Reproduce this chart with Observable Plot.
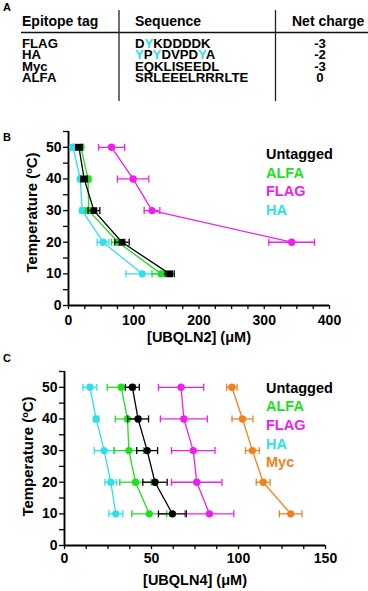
<!DOCTYPE html>
<html><head><meta charset="utf-8">
<script src="https://cdn.jsdelivr.net/npm/d3@7"></script>
<script src="https://cdn.jsdelivr.net/npm/@observablehq/plot@0.6"></script>
<style>
body{margin:0;background:#fff;}
#root{position:relative;width:368px;height:591px;overflow:hidden;background:#fff;font-family:"Liberation Sans",Arial,sans-serif;}
#root > svg{position:absolute;left:0;}
</style></head><body><div id="root"></div>
<script>
// ---- Panel A table ----
const headers = ["Epitope tag", "Sequence", "Net charge"];
const tags = ["FLAG", "HA", "Myc", "ALFA"];
const sequences = ["DYKDDDDK", "YPYDVPDYA", "EQKLISEEDL", "SRLEEELRRRLTE"];
const highlightedPositions = [[1], [0, 2, 7], [], []];
const netCharges = ["-3", "-2", "-3", "0"];

// ---- Panels B and C data ----
const temperatures = [10, 20, 30, 40, 50];
const xTicksB = [0, 100, 200, 300, 400];
const xTicksC = [0, 50, 100, 150];
const yTicks = [0, 10, 20, 30, 40, 50];

// UBQLN2 (µM) by temperature 10..50
const b_Untagged = [155, 82, 39, 24, 16];
const b_Untagged_err = [7, 11, 9, 5, 5];
const b_ALFA = [142, 76, 31, 30, 19];
const b_ALFA_err = [14, 10, 5, 4, 4];
const b_FLAG = [null, 342, 128, 99, 66];
const b_FLAG_err = [null, 35, 12, 24, 20];
const b_HA = [113, 53, 21, 18, 7];
const b_HA_err = [25, 9, 3, 3, 4];

// UBQLN4 (µM) by temperature 10..50
const c_Untagged = [62, 52, 47.5, 42.3, 39];
const c_Untagged_err = [8, 7, 6, 6, 4];
const c_ALFA = [48.7, 40.8, 37, 36.2, 32.6];
const c_ALFA_err = [10, 9, 8.5, 7, 8];
const c_FLAG = [83.3, 76, 74, 68.6, 67];
const c_FLAG_err = [14, 14.5, 12.5, 13.5, 13];
const c_HA = [29.5, 26.6, 22.8, 18.2, 14.6];
const c_HA_err = [4, 3.3, 5.7, 1.5, 4];
const c_Myc = [130, 114.2, 108, 102.3, 96.2];
const c_Myc_err = [6.5, 4, 4, 6, 3];

const colors = {Untagged: "#000000", ALFA: "#1fdf1f", FLAG: "#ee1fee", HA: "#2fdfec", Myc: "#f0821e"};

const FONT = "'Liberation Sans', Arial, sans-serif";
const root = document.getElementById("root");

// ---- Panel A drawn as an SVG table ----
(function () {
  const svg = d3.select(root).append("svg").attr("width", 368).attr("height", 108).style("top", "0px")
    .attr("font-family", FONT).attr("font-weight", "bold").attr("text-anchor", "start");
  svg.append("text").attr("x", 3).attr("y", 11).attr("font-size", 11).text("A");
  const colX = [22, 135, 292];
  headers.forEach((h, i) => svg.append("text").attr("x", colX[i]).attr("y", 25.5).attr("font-size", 14).text(h));
  svg.append("line").attr("x1", 21).attr("x2", 368).attr("y1", 32.5).attr("y2", 32.5).attr("stroke", "#111").attr("stroke-width", 1.3);
  [119, 275.5].forEach(x => svg.append("line").attr("x1", x).attr("x2", x).attr("y1", 10).attr("y2", 101).attr("stroke", "#222").attr("stroke-width", 1.3));
  const rowY = [47.7, 59.3, 70.8, 82.3];
  tags.forEach((t, r) => {
    svg.append("text").attr("x", colX[0]).attr("y", rowY[r]).attr("font-size", 13.2).text(t);
    const tx = svg.append("text").attr("x", colX[1]).attr("y", rowY[r]).attr("font-size", 13.2);
    // group consecutive characters of the same colour into one tspan
    const runs = [];
    [...sequences[r]].forEach((ch, k) => {
      const hl = highlightedPositions[r].includes(k);
      if (runs.length && runs[runs.length - 1].hl === hl) runs[runs.length - 1].s += ch;
      else runs.push({hl, s: ch});
    });
    runs.forEach(run => tx.append("tspan").attr("fill", run.hl ? colors.HA : "#000").text(run.s));
    svg.append("text").attr("x", 320).attr("y", rowY[r]).attr("font-size", 13.2).attr("text-anchor", "middle").text(netCharges[r]);
  });
})();

function rowsOf(values, errs) {
  return temperatures.map((T, i) => ({T, x: values[i], err: errs[i]})).filter(d => d.x != null);
}

const vbar = {draw(ctx, size) { const h = Math.sqrt(size / Math.PI); ctx.moveTo(0, -h); ctx.lineTo(0, h); }};

function seriesMarks(rows, color, symbol) {
  return [
    Plot.line(rows, {x: "x", y: "T", stroke: color, strokeWidth: 1.3}),
    Plot.ruleY(rows, {y: "T", x1: d => d.x - d.err, x2: d => d.x + d.err, stroke: color, strokeWidth: 1.3}),
    Plot.dot(rows, {x: d => d.x - d.err, y: "T", symbol: vbar, r: 3.5, stroke: color, strokeWidth: 1.3, fill: "none"}),
    Plot.dot(rows, {x: d => d.x + d.err, y: "T", symbol: vbar, r: 3.5, stroke: color, strokeWidth: 1.3, fill: "none"}),
    Plot.dot(rows, {x: "x", y: "T", symbol, r: symbol === "square" ? 3.8 : 3.7, fill: color, stroke: "none"})
  ];
}

function panel(o) {
  const plot = Plot.plot({
    width: 368, height: o.height,
    marginLeft: o.marginLeft, marginRight: o.marginRight, marginTop: o.marginTop, marginBottom: o.marginBottom,
    style: {fontFamily: FONT, fontSize: "14px", fontWeight: "bold", color: "#000", background: "transparent", overflow: "visible"},
    x: {domain: o.xDomain},
    y: {domain: [0, 55]},
    marks: [
      Plot.axisX({ticks: d3.range(0, o.xDomain[1] + 0.01, o.xMinor), tickFormat: d => o.xTicks.includes(d) ? d : "", tickSize: 4, tickPadding: o.tickPadX, strokeWidth: 1.3, label: null}),
      Plot.axisY({ticks: d3.range(0, 55.01, 5), tickFormat: d => yTicks.includes(d) ? d : "", tickSize: 5, tickPadding: 2, strokeWidth: 1.3, label: null}),
      Plot.ruleX([0], {stroke: "#000", strokeWidth: 1.9}),
      Plot.ruleY([0], {stroke: "#000", strokeWidth: 1.9}),
      ...o.series.flatMap(s => seriesMarks(s.rows, colors[s.name], s.symbol)),
      Plot.text([o.xLabel], {frameAnchor: "bottom", textAnchor: "middle", lineAnchor: "middle", dy: o.xLabelDy, fontSize: 14.5}),
      Plot.text(["Temperature (ºC)"], {frameAnchor: "left", textAnchor: "middle", lineAnchor: "middle", rotate: -90, dx: o.yLabelDx, dy: o.yLabelDy, fontSize: 15})
    ]
  });
  plot.style.top = o.top + "px";
  root.appendChild(plot);
  const g = d3.select(plot).append("g").attr("font-family", FONT).attr("font-weight", "bold").attr("font-size", 14.5).attr("text-anchor", "start");
  o.legend.forEach((name, i) => g.append("text").attr("x", 266).attr("y", o.legendY - o.top + i * o.legendStep).attr("fill", colors[name]).text(name));
  g.append("text").attr("x", 3).attr("y", o.letterY - o.top).attr("font-size", 11).attr("fill", "#000").text(o.letter);
}

panel({
  top: 110, height: 240, marginLeft: 68, marginRight: 39, marginTop: 21, marginBottom: 45,
  xDomain: [0, 400], xMinor: 25, xTicks: xTicksB, tickPadX: 6, xLabel: "[UBQLN2] (μM)", xLabelDy: 32,
  yLabelDx: -36, yLabelDy: -6,
  series: [
    {name: "HA", rows: rowsOf(b_HA, b_HA_err), symbol: "circle"},
    {name: "FLAG", rows: rowsOf(b_FLAG, b_FLAG_err), symbol: "circle"},
    {name: "ALFA", rows: rowsOf(b_ALFA, b_ALFA_err), symbol: "circle"},
    {name: "Untagged", rows: rowsOf(b_Untagged, b_Untagged_err), symbol: "square"}
  ],
  legend: ["Untagged", "ALFA", "FLAG", "HA"], legendY: 159, legendStep: 18.7,
  letter: "B", letterY: 141
});

panel({
  top: 350, height: 241, marginLeft: 64, marginRight: 43, marginTop: 21, marginBottom: 46,
  xDomain: [0, 150], xMinor: 12.5, xTicks: xTicksC, tickPadX: 4, xLabel: "[UBQLN4] (μM)", xLabelDy: 35,
  yLabelDx: -36, yLabelDy: -2,
  series: [
    {name: "Myc", rows: rowsOf(c_Myc, c_Myc_err), symbol: "circle"},
    {name: "FLAG", rows: rowsOf(c_FLAG, c_FLAG_err), symbol: "circle"},
    {name: "HA", rows: rowsOf(c_HA, c_HA_err), symbol: "circle"},
    {name: "ALFA", rows: rowsOf(c_ALFA, c_ALFA_err), symbol: "circle"},
    {name: "Untagged", rows: rowsOf(c_Untagged, c_Untagged_err), symbol: "circle"}
  ],
  legend: ["Untagged", "ALFA", "FLAG", "HA", "Myc"], legendY: 392.7, legendStep: 18.6,
  letter: "C", letterY: 362
});
</script></body></html>
